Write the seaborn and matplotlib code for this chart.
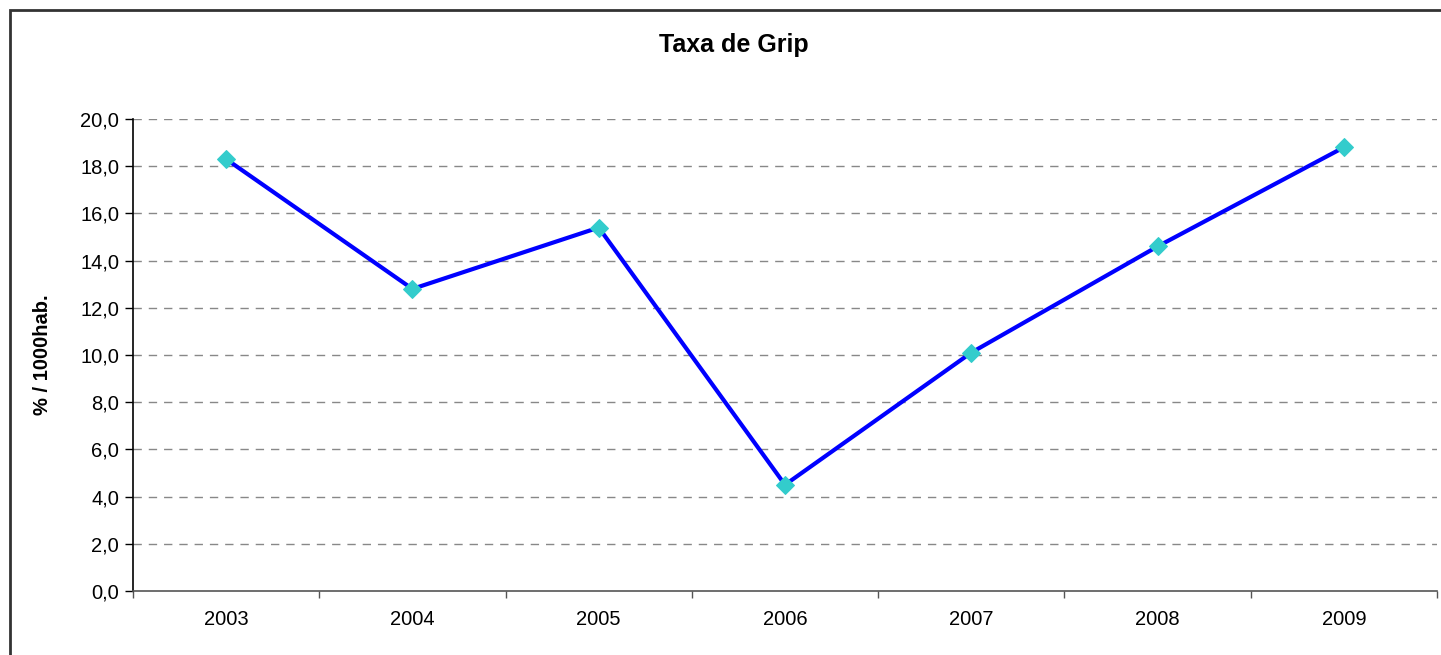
import matplotlib
matplotlib.use("Agg")
import matplotlib.pyplot as plt
import seaborn as sns
import pandas as pd
from matplotlib.ticker import FixedLocator, FuncFormatter, MultipleLocator
from matplotlib.patches import Rectangle

years = ["2003", "2004", "2005", "2006", "2007", "2008", "2009"]
values = [18.3, 12.8, 15.4, 4.5, 10.1, 14.6, 18.8]
title = "Taxa de Grip"
ylabel = "% / 1000hab."

sns.set_style("white")
plt.rcParams["font.family"] = ["Liberation Sans", "DejaVu Sans"]
plt.rcParams["text.color"] = "black"
plt.rcParams["axes.labelcolor"] = "black"
plt.rcParams["xtick.color"] = "black"
plt.rcParams["ytick.color"] = "black"

W, H = 1441, 655
fig = plt.figure(figsize=(W / 100, H / 100), dpi=100)
ax = fig.add_axes([133 / W, 1 - 591 / H, (1437 - 133) / W, (591 - 119) / H])

df = pd.DataFrame({"year": years, "value": values})
sns.lineplot(data=df, x="year", y="value", ax=ax, color="#0000FF", linewidth=3.0,
             marker="D", markersize=9, markerfacecolor="#33CCCC",
             markeredgecolor="#33CCCC", sort=False, zorder=3)

ax.set_xlim(-0.5, len(years) - 0.5)
ax.set_ylim(0, 20)
ax.yaxis.set_major_locator(MultipleLocator(2))
ax.yaxis.set_major_formatter(FuncFormatter(lambda v, p: f"{v:.1f}".replace(".", ",")))
ax.set_xticks(range(len(years)))
ax.set_xticklabels(years)
ax.xaxis.set_minor_locator(FixedLocator([i - 0.5 for i in range(len(years) + 1)]))
ax.tick_params(axis="x", which="major", length=0, pad=14, labelsize=14.5, labelcolor="black")
ax.tick_params(axis="x", which="minor", length=5, width=1, color="#555555", direction="out", bottom=True)
ax.tick_params(axis="y", which="major", length=6, width=1, color="black", direction="out", left=True,
               labelsize=14.5, pad=4, labelcolor="black")

for yv in range(2, 21, 2):
    ax.axhline(yv, color="#888888", linewidth=1, linestyle=(0, (6, 5)), zorder=1)

for s in ["top", "right"]:
    ax.spines[s].set_visible(False)
ax.spines["left"].set_color("black")
ax.spines["left"].set_linewidth(1.2)
ax.spines["bottom"].set_color("#555555")
ax.spines["bottom"].set_linewidth(1.2)

ax.set_xlabel("")
ax.set_ylabel(ylabel, fontsize=14.5, fontweight="bold", labelpad=20, color="black")

fig.text(734 / W, 1 - 45 / H, title, ha="center", va="center", fontsize=18, fontweight="bold", color="black")

fig.patches.append(Rectangle((10 / W, -0.1), 1.2, 1 - 10 / H + 0.1, transform=fig.transFigure,
                             fill=False, edgecolor="#333333", linewidth=2))

fig.savefig("out.png", dpi=100)
